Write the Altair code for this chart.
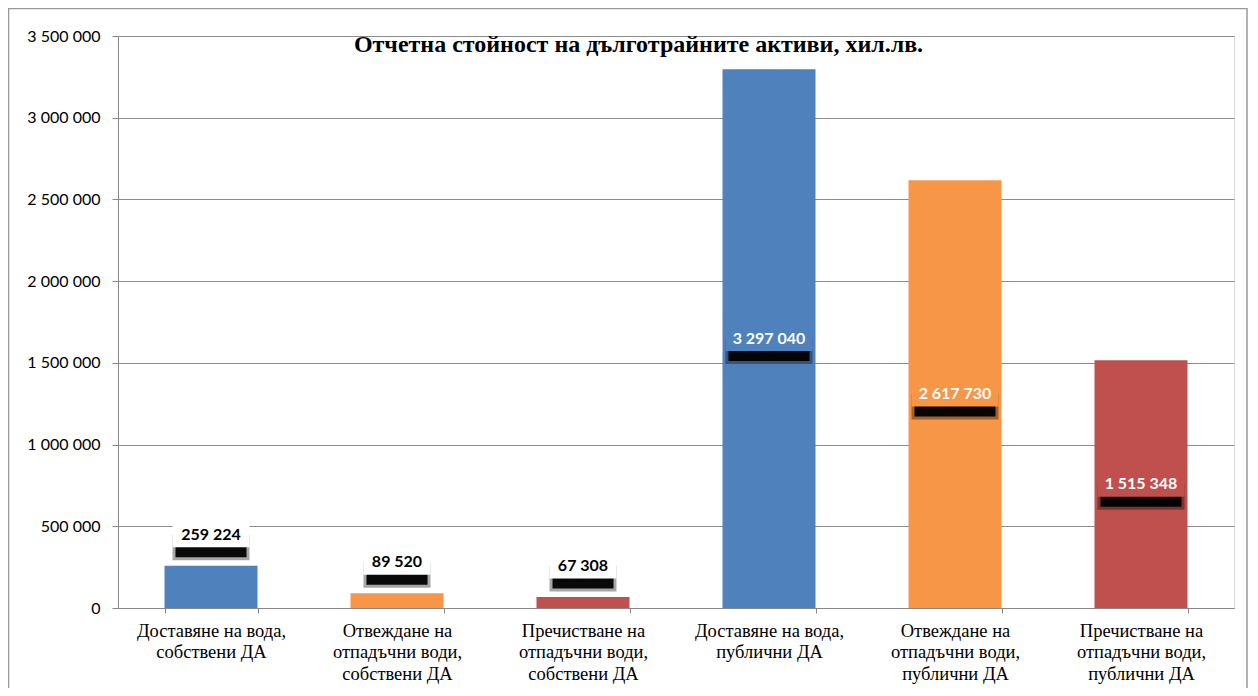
import altair as alt
import pandas as pd

categories = [
    "Доставяне на вода,\nсобствени ДА",
    "Отвеждане на\nотпадъчни води,\nсобствени ДА",
    "Пречистване на\nотпадъчни води,\nсобствени ДА",
    "Доставяне на вода,\nпублични ДА",
    "Отвеждане на\nотпадъчни води,\nпублични ДА",
    "Пречистване на\nотпадъчни води,\nпублични ДА",
]
values = [259224, 89520, 67308, 3297040, 2617730, 1515348]
colors = ["#4F81BD", "#F79646", "#C0504D", "#4F81BD", "#F79646", "#C0504D"]
y_ticks = [0, 500000, 1000000, 1500000, 2000000, 2500000, 3000000, 3500000]
title_text = "Отчетна стойност на дълготрайните активи, хил.лв."

W, H = 1116, 572
YMAX = 3500000
K = YMAX / H  # data units per pixel

df = pd.DataFrame({"cat": categories, "value": values, "col": colors})

base = alt.Chart(df).transform_calculate(
    lab="replace(format(datum.value, ','), /,/g, ' ')",
    labc=f"datum.value < 1000000 ? datum.value + {31*K} : datum.value / 2",
).transform_calculate(
    blo=f"datum.labc - {12.5*K}",
    bhi=f"datum.labc + {12.5*K}",
    slo=f"datum.labc - {22.5*K}",
    shi=f"datum.labc",
    slo2=f"datum.labc - {25.5*K}",
    shi2=f"datum.labc",
    bw="10 * length(replace(datum.lab, / /g, '')) + 17",
    bw_core="10 * length(replace(datum.lab, / /g, '')) + 11",
    bfill="datum.value < 1000000 ? 'white' : datum.col",
    tcol="datum.value < 1000000 ? 'black' : 'white'",
)

xenc = alt.X(
    "cat:N",
    sort=categories,
    scale=alt.Scale(paddingInner=0.5, paddingOuter=0.25),
    axis=alt.Axis(
        title=None,
        labelAngle=0,
        labelExpr="split(datum.label, '\\n')",
        labelFont="Liberation Serif",
        labelFontSize=18.5,
        labelLineHeight=21.7,
        labelColor="black",
        labelPadding=8,
        labelLimit=0,
        tickBand="extent",
        tickSize=5,
        tickColor="#888888",
        domainColor="#888888",
        grid=False,
    ),
)

yscale = alt.Scale(domain=[0, YMAX], nice=False)

bars = base.mark_bar().encode(
    x=xenc,
    y=alt.Y(
        "value:Q",
        scale=yscale,
        axis=alt.Axis(
            title=None,
            values=y_ticks,
            labelExpr="replace(format(datum.value, ','), /,/g, ' ')",
            labelFont="Lato",
            labelFontSize=16,
            labelColor="black",
            labelPadding=12,
            tickSize=6,
            tickColor="#888888",
            domainColor="#888888",
            gridColor="#8c8c8c",
            gridWidth=1.2,
        ),
    ),
    color=alt.Color("col:N", scale=None),
)

shadow_blur = base.mark_bar(color="black", opacity=0.35).encode(
    x=alt.X("cat:N", sort=categories),
    y=alt.Y("slo2:Q", scale=yscale),
    y2="shi2:Q",
    size=alt.Size("bw:Q", scale=None),
)

shadow = base.mark_bar(color="black", opacity=0.95).encode(
    x=alt.X("cat:N", sort=categories),
    y=alt.Y("slo:Q", scale=yscale),
    y2="shi:Q",
    size=alt.Size("bw_core:Q", scale=None),
)

box = base.mark_bar().encode(
    x=alt.X("cat:N", sort=categories),
    y=alt.Y("blo:Q", scale=yscale),
    y2="bhi:Q",
    size=alt.Size("bw:Q", scale=None),
    color=alt.Color("bfill:N", scale=None),
)

text = base.mark_text(
    font="Lato", fontSize=16, fontWeight="bold", baseline="middle", align="center", dy=0
).encode(
    x=alt.X("cat:N", sort=categories),
    y=alt.Y("labc:Q", scale=yscale),
    text="lab:N",
    color=alt.Color("tcol:N", scale=None),
)

title = alt.Chart(alt.Data(values=[{"t": title_text}])).mark_text(
    font="Liberation Serif", fontSize=24, fontWeight="bold", color="black",
    align="center", baseline="alphabetic",
).encode(
    x=alt.value(520.5),
    y=alt.value(15.5),
    text="t:N",
)

frame = alt.Chart(alt.Data(values=[{"a": 1}])).mark_rect(
    fill=None, stroke="#999999", strokeWidth=1.5
).encode(
    x=alt.value(-109.5),
    x2=alt.value(1129),
    y=alt.value(-27.5),
    y2=alt.value(720),
)

chart = alt.layer(bars, shadow_blur, shadow, box, text, title, frame).properties(
    width=W,
    height=H,
    autosize=alt.AutoSizeParams(type="none"),
    padding={"left": 110, "top": 28, "right": 14, "bottom": 80},
).configure_view(stroke=None).configure(background="white")

chart.save("out.html", embed_options={"renderer": "svg", "actions": False})
